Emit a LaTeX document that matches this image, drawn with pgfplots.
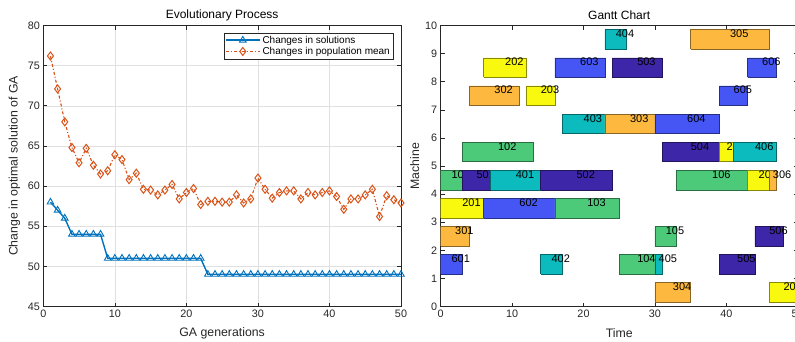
\documentclass[border=0pt]{standalone}
\usepackage{pgfplots}
\pgfplotsset{compat=1.18}
\usepackage{fontspec}
\setmainfont{Liberation Sans}
\definecolor{mblue}{HTML}{0072BD}
\definecolor{morange}{HTML}{D95319}
\definecolor{axc}{HTML}{262626}
\definecolor{jA}{HTML}{4DC97A}
\definecolor{jB}{HTML}{F9F90F}
\definecolor{jC}{HTML}{FDB93F}
\definecolor{jD}{HTML}{0BBBBE}
\definecolor{jE}{HTML}{3E26A8}
\definecolor{jF}{HTML}{4556F4}
% start, end, row, colour, label, label x
\newcommand{\gbar}[6]{%
 \addplot[fill=#4, draw=#4!55!black, line width=0.6pt, line join=miter] coordinates {(#1,#3.15) (#2,#3.15) (#2,#3.85) (#1,#3.85) (#1,#3.15)};
 \node[anchor=west, inner sep=0pt, text=black, font=\fontsize{11}{13}\selectfont] at (axis cs:#6,#3.7) {#5};
}
\pgfplotsset{
  every axis title shift=0pt,
  mstyle/.style={
    scale only axis, height=281pt,
    axis line style={axc, line width=0.6pt},
    tick style={axc, line width=0.6pt},
    major tick length=4pt, tick align=inside,
    ticklabel style={font=\fontsize{10.8}{12}\selectfont, text=axc},
    /pgf/number format/assume math mode=true,
    label style={font=\fontsize{12.3}{14}\selectfont, text=axc},
    title style={font=\fontsize{12}{14}\selectfont, text=black, at={(axis description cs:0.5,1.036)}, anchor=center},
    xlabel style={at={(axis description cs:0.5,-0.096)}, anchor=center},
  }
}
\begin{document}
\begin{tikzpicture}
\begin{axis}[mstyle,
  at={(43.3pt,34.5pt)}, anchor=south west, width=357.7pt,
  xmin=0, xmax=50, ymin=45, ymax=80,
  xtick={0,10,...,50}, ytick={45,50,...,80},
  grid=major, major grid style={black!12, line width=0.5pt},
  title={Evolutionary Process},
  xlabel={GA generations},
  ylabel={Change in optimal solution of GA},
  ylabel style={at={(axis description cs:-0.081,0.5)}, anchor=center, rotate=0},
  legend style={at={(0.978,0.975)}, anchor=north east, draw=axc, line width=0.6pt,
    font=\fontsize{10}{12}\selectfont, inner sep=1pt, row sep=-1.5pt},
  legend cell align=left,
  legend image code/.code={\draw[mark repeat=2, mark phase=2] plot coordinates {(0pt,0pt) (17pt,0pt) (34pt,0pt)};},
]
\addplot[mblue, line width=1.4pt, mark=triangle, mark size=3.8pt, mark options={solid, line width=0.9pt}]
coordinates {
(1,58) (2,57) (3,56) (4,54) (5,54) (6,54) (7,54) (8,54) (9,51) (10,51)
(11,51) (12,51) (13,51) (14,51) (15,51) (16,51) (17,51) (18,51) (19,51) (20,51)
(21,51) (22,51) (23,49) (24,49) (25,49) (26,49) (27,49) (28,49) (29,49) (30,49)
(31,49) (32,49) (33,49) (34,49) (35,49) (36,49) (37,49) (38,49) (39,49) (40,49)
(41,49) (42,49) (43,49) (44,49) (45,49) (46,49) (47,49) (48,49) (49,49) (50,49)
};
\addlegendentry{Changes in solutions}
\addplot[morange, line width=1.1pt, dash dot, mark=diamond, mark size=4pt, mark options={solid, line width=1pt}]
coordinates {
(1,76.2) (2,72.1) (3,68.0) (4,64.8) (5,62.9) (6,64.7) (7,62.6) (8,61.5) (9,61.9) (10,63.9)
(11,63.3) (12,60.8) (13,61.6) (14,59.6) (15,59.5) (16,58.9) (17,59.5) (18,60.2) (19,58.4) (20,59.2)
(21,59.7) (22,57.7) (23,58.1) (24,58.1) (25,58.0) (26,58.0) (27,58.9) (28,57.9) (29,58.4) (30,61.0)
(31,59.6) (32,58.5) (33,59.2) (34,59.4) (35,59.4) (36,58.4) (37,59.2) (38,58.9) (39,59.2) (40,59.4)
(41,58.7) (42,57.1) (43,58.4) (44,58.4) (45,58.9) (46,59.6) (47,56.2) (48,58.8) (49,58.3) (50,57.9)
};
\addlegendentry{Changes in population mean}
\end{axis}

\begin{axis}[mstyle,
  at={(440.7pt,34.5pt)}, anchor=south west, width=357pt,
  xmin=0, xmax=50, ymin=0, ymax=10,
  xtick={0,10,...,50}, ytick={0,1,...,10},
  title={Gantt Chart},
  xlabel={Time},
  ylabel={Machine},
  ylabel style={at={(axis description cs:-0.073,0.5)}, anchor=center, rotate=0},
]
% row 0
\gbar{30}{35}{0}{jC}{304}{32.5}
\gbar{46}{50}{0}{jB}{206}{48}
% row 1
\gbar{0}{3}{1}{jF}{601}{1.5}
\gbar{14}{17}{1}{jD}{402}{15.5}
\gbar{25}{30}{1}{jA}{104}{27.5}
\gbar{30}{31}{1}{jD}{405}{30.5}
\gbar{39}{44}{1}{jE}{505}{41.5}
% row 2
\gbar{0}{4}{2}{jC}{301}{2}
\gbar{30}{33}{2}{jA}{105}{31.5}
\gbar{44}{48}{2}{jE}{506}{46}
% row 3
\gbar{0}{6}{3}{jB}{201}{3}
\gbar{6}{16}{3}{jF}{602}{11}
\gbar{16}{25}{3}{jA}{103}{20.5}
% row 4
\gbar{0}{3}{4}{jA}{101}{1.5}
\gbar{3}{7}{4}{jE}{501}{5}
\gbar{7}{14}{4}{jD}{401}{10.5}
\gbar{14}{24}{4}{jE}{502}{19}
\gbar{33}{43}{4}{jA}{106}{38}
\gbar{43}{46}{4}{jB}{205}{44.5}
\gbar{46}{47}{4}{jC}{306}{46.5}
% row 5
\gbar{3}{13}{5}{jA}{102}{8}
\gbar{31}{39}{5}{jE}{504}{35}
\gbar{39}{41}{5}{jB}{204}{40}
\gbar{41}{47}{5}{jD}{406}{44}
% row 6
\gbar{17}{23}{6}{jD}{403}{20}
\gbar{23}{30}{6}{jC}{303}{26.5}
\gbar{30}{39}{6}{jF}{604}{34.5}
% row 7
\gbar{4}{11}{7}{jC}{302}{7.5}
\gbar{12}{16}{7}{jB}{203}{14}
\gbar{39}{43}{7}{jF}{605}{41}
% row 8
\gbar{6}{12}{8}{jB}{202}{9}
\gbar{16}{23}{8}{jF}{603}{19.5}
\gbar{24}{31}{8}{jE}{503}{27.5}
\gbar{43}{47}{8}{jF}{606}{45}
% row 9
\gbar{23}{26}{9}{jD}{404}{24.5}
\gbar{35}{46}{9}{jC}{305}{40.5}
\end{axis}
\pgfresetboundingbox
\useasboundingbox (0,0) rectangle (795pt,341pt);
\end{tikzpicture}
\end{document}
